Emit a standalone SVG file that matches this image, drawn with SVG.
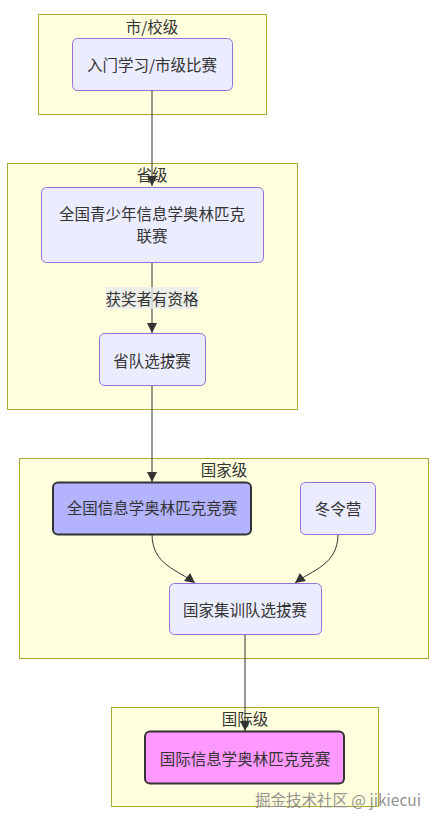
<svg xmlns="http://www.w3.org/2000/svg" width="436" height="822" viewBox="0 0 436 822">
<style>
text{font-family:"Noto Sans CJK SC","Noto Sans",sans-serif;font-size:15.5px;fill:#333;text-anchor:middle;dominant-baseline:central}
.cluster{fill:#ffffde;stroke:#aaaa33;stroke-width:1}
.node{fill:#ececff;stroke:#9370db;stroke-width:1}
.edge{fill:none;stroke:#333;stroke-width:1}
.wm{fill:#888;font-size:15.5px;text-anchor:end;opacity:0.9}
</style>
<defs>
<marker id="arrow" viewBox="0 0 10 10" refX="10" refY="5" markerWidth="10" markerHeight="10" markerUnits="userSpaceOnUse" orient="auto">
<path d="M0,0 L10,5 L0,10 z" fill="#333"/>
</marker>
</defs>
<rect width="436" height="822" fill="#fff"/>
<g id="clusters">
<g id="cluster-city"><rect class="cluster" x="38.5" y="14.5" width="228" height="100"/><text x="152" y="26">市/校级</text></g>
<g id="cluster-province"><rect class="cluster" x="7.5" y="163.5" width="290" height="246"/><text x="152" y="174">省级</text></g>
<g id="cluster-national"><rect class="cluster" x="19.5" y="458.5" width="409" height="200"/><text x="224" y="469">国家级</text></g>
<g id="cluster-intl"><rect class="cluster" x="111.5" y="707.5" width="267" height="99"/><text x="245" y="718">国际级</text></g>
</g>
<g id="edges">
<path class="edge" d="M152,90 L152,186" marker-end="url(#arrow)"/>
<path class="edge" d="M152,262 L152,333" marker-end="url(#arrow)"/>
<path class="edge" d="M152,385 L152,482" marker-end="url(#arrow)"/>
<path class="edge" d="M152,534 C152,565 178,570 195,583" marker-end="url(#arrow)"/>
<path class="edge" d="M338,534 C338,565 312,570 295,583" marker-end="url(#arrow)"/>
<path class="edge" d="M245,634 L245,731" marker-end="url(#arrow)"/>
</g>
<g id="edge-label">
<rect x="106" y="287" width="92" height="22" fill="#e8e8e8" opacity="0.8"/>
<text x="152" y="298">获奖者有资格</text>
</g>
<g id="n1"><rect class="node" x="72.5" y="38.5" width="160" height="52" rx="5"/><text x="152" y="64">入门学习/市级比赛</text></g>
<g id="n2"><rect class="node" x="41.5" y="187.5" width="222" height="75" rx="5"/><text x="152" y="213">全国青少年信息学奥林匹克</text><text x="152" y="235">联赛</text></g>
<g id="n3"><rect class="node" x="99.5" y="333.5" width="106" height="52" rx="5"/><text x="152" y="360">省队选拔赛</text></g>
<g id="n4"><rect x="53" y="482.5" width="198" height="52" rx="5" fill="#b3b3ff" stroke="#333" stroke-width="2"/><text x="152" y="507">全国信息学奥林匹克竞赛</text></g>
<g id="n5"><rect class="node" x="300.5" y="482.5" width="75" height="52" rx="5"/><text x="338" y="508">冬令营</text></g>
<g id="n6"><rect class="node" x="169.5" y="583.5" width="152" height="51" rx="5"/><text x="245" y="609">国家集训队选拔赛</text></g>
<g id="n7"><rect x="145" y="731.5" width="199" height="52" rx="5" fill="#ff99ff" stroke="#333" stroke-width="2"/><text x="245" y="758">国际信息学奥林匹克竞赛</text></g>
<text class="wm" x="421" y="799">掘金技术社区 @ jikiecui</text>
</svg>
